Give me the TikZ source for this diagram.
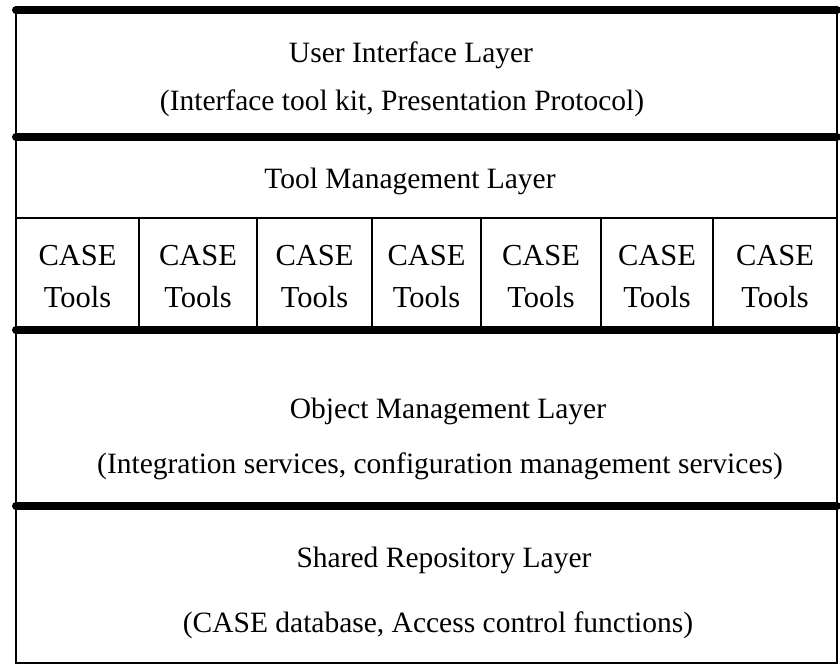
\documentclass[tikz,border=0pt]{standalone}
\usepackage{fontspec}
\setmainfont{Liberation Serif}
\usetikzlibrary{positioning}

\begin{document}
\begin{tikzpicture}[x=1pt,y=-1pt]
\tikzset{thin rule/.style={line width=2pt},
  thick rule/.style={line width=8pt,line cap=round},
  layer/.style={inner sep=0pt,font=\fontsize{29.5}{34}\selectfont},
  cell/.style={inner sep=0pt,align=center,font=\fontsize{30.5}{42}\selectfont}}
\useasboundingbox (0,0) rectangle (840,665);
\coordinate (tl) at (16,10);
\coordinate (tr) at (837,10);
\coordinate (bl) at (16,663);
\coordinate (br) at (837,663);

% outer frame
\draw[thin rule] (tl) -- (bl) -- (br) -- (tr);
\draw[thick rule] (tl) -- (tr);
\draw[thick rule] (16,137) coordinate (ui-l) -- (837,137) coordinate (ui-r);
\draw[thin rule] (16,218) coordinate (tm-l) -- (837,218) coordinate (tm-r);
\draw[thick rule] (16,330) coordinate (ct-l) -- (837,330) coordinate (ct-r);
\draw[thick rule] (16,506) coordinate (om-l) -- (837,506) coordinate (om-r);

% layer texts
\node[layer] (ui) at (411,55) {User Interface Layer};
\node[layer] (uisub) at (402,103) {(Interface tool kit, Presentation Protocol)};
\node[layer] (tm) at (410,181) {Tool Management Layer};
\node[layer] (om) at (448,411) {Object Management Layer};
\node[layer] (omsub) at (440,466) {(Integration services, configuration management services)};
\node[layer] (sr) at (444,560) {Shared Repository Layer};
\node[layer] (srsub) at (438,625) {(CASE database, Access control functions)};

% CASE tools row
\foreach \xa/\xb [count=\i] in {16/139,139/257,257/372,372/481,481/601,601/713,713/837}{
  \node[cell] (case\i) at ({(\xa+\xb)/2},277) {CASE\\Tools};
  \ifnum\i>1 \draw[thin rule] (\xa,218) -- (\xa,330); \fi
}
\end{tikzpicture}
\end{document}
